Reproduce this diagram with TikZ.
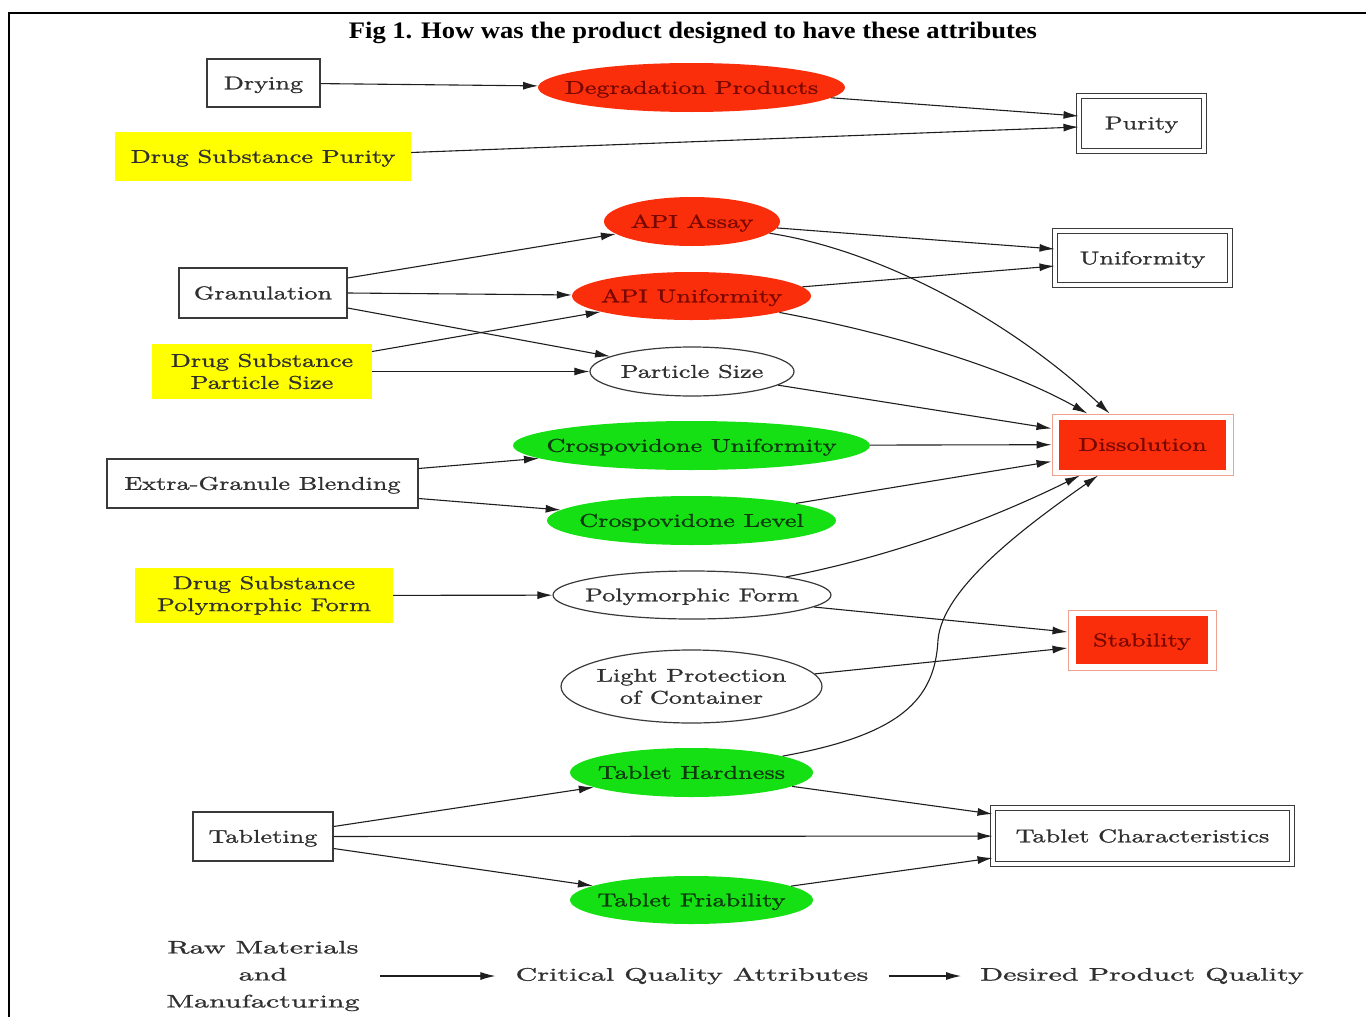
\documentclass[tikz,border=0pt]{standalone}
\usepackage{fontspec}
\usetikzlibrary{arrows.meta,shapes.geometric}
\newfontfamily\nodefont{lmroman10-regular.otf}[FakeStretch=1.42,FakeBold=1.2]
\newfontfamily\legfont{lmroman10-regular.otf}[FakeStretch=1.67,FakeBold=1.2]
\newfontfamily\titlefont{Liberation Serif}[FakeStretch=1.12]
\definecolor{txtgray}{HTML}{303030}
\definecolor{linegray}{HTML}{3A3A3A}
\definecolor{arrgray}{HTML}{1E1E1E}
\definecolor{ylw}{HTML}{FFFF00}
\definecolor{redf}{HTML}{FA2E0A}
\definecolor{redtxt}{HTML}{7A0800}
\definecolor{grnf}{HTML}{14E014}
\definecolor{grntxt}{HTML}{0E3A0E}
\definecolor{pinkl}{HTML}{F0A090}
\tikzset{
 base/.style={font=\nodefont\fontsize{18.5}{22}\selectfont, align=center, inner sep=0pt, text=txtgray, text height=15.6pt, text depth=3pt},
 multi/.style={text height={}, text depth={}, yshift=-1pt},
 rbox/.style={base, rectangle, draw=linegray, line width=1.2pt},
 ybox/.style={base, rectangle, fill=ylw},
 ell/.style={base, ellipse, inner xsep=-60pt, inner ysep=0pt},
 wel/.style={ell, draw=linegray, line width=1.2pt},
 rel/.style={ell, fill=redf, text=redtxt},
 gel/.style={ell, fill=grnf, text=grntxt},
 dbox/.style={base, rectangle, draw=linegray, line width=1pt, double, double distance=4pt},
 pbox/.style={rectangle, draw=pinkl, line width=1pt, inner sep=0pt},
 rfill/.style={base, rectangle, fill=redf, text=redtxt},
 arr/.style={draw=arrgray, line width=1.1pt, -{Latex[length=15pt,width=8pt]}},
 legt/.style={font=\legfont\fontsize{18}{27}\selectfont, align=center, inner sep=0pt, text=txtgray},
}
\begin{document}
\begin{tikzpicture}[x=1pt,y=-1pt]
\useasboundingbox (0,0) rectangle (1366,1017);
\draw[line width=2pt] (1366,13) -- (9,13) -- (9,1017);
\node[font=\titlefont\bfseries\fontsize{23.7}{28}\selectfont, inner sep=0pt] (title) at (693,32.5) {Fig 1. How was the product designed to have these attributes};

% left column
\node[rbox, minimum width=113pt, minimum height=48pt] (dry) at (263.5,83) {Drying};
\node[ybox, minimum width=296pt, minimum height=49pt] (dsp) at (263,156.5) {Drug Substance Purity};
\node[rbox, minimum width=168pt, minimum height=50pt] (gran) at (263,293) {Granulation};
\node[ybox, multi, minimum width=220pt, minimum height=55pt] (dsps) at (262,370.5) {Drug Substance\\Particle Size};
\node[rbox, minimum width=311pt, minimum height=49pt] (egb) at (262.5,483.5) {Extra-Granule Blending};
\node[ybox, multi, minimum width=258pt, minimum height=55pt] (dspf) at (264,594.5) {Drug Substance\\Polymorphic Form};
\node[rbox, minimum width=140pt, minimum height=49pt] (tab) at (263,836.5) {Tableting};

% middle column
\node[rel, minimum width=307pt, minimum height=49pt] (deg) at (691.5,87.5) {Degradation Products};
\node[rel, minimum width=176pt, minimum height=49pt] (apiA) at (692,221.5) {API Assay};
\node[rel, minimum width=239pt, minimum height=48pt] (apiU) at (691.5,296) {API Uniformity};
\node[wel, minimum width=204pt, minimum height=49pt] (ps) at (692,371.5) {Particle Size};
\node[gel, minimum width=357pt, minimum height=49pt] (cu) at (691.5,445.5) {Crospovidone Uniformity};
\node[gel, minimum width=289pt, minimum height=49pt] (cl) at (691.5,520.5) {Crospovidone Level};
\node[wel, minimum width=278pt, minimum height=48pt] (pf) at (692,595) {Polymorphic Form};
\node[wel, multi, minimum width=261pt, minimum height=73pt] (lp) at (691.5,685.5) {Light Protection\\of Container};
\node[gel, minimum width=243pt, minimum height=49pt] (th) at (691.5,772.5) {Tablet Hardness};
\node[gel, minimum width=243pt, minimum height=48pt] (tf) at (691.5,900) {Tablet Friability};

% right column
\node[dbox, minimum width=125pt, minimum height=55pt] (pur) at (1141.5,123) {Purity};
\node[dbox, minimum width=175pt, minimum height=54pt] (unif) at (1142.5,258) {Uniformity};
\node[pbox, minimum width=181pt, minimum height=61pt] (dis) at (1142.5,444.5) {};
\node[rfill, minimum width=167pt, minimum height=50pt] (disin) at (1142.5,444.5) {Dissolution};
\node[pbox, minimum width=148pt, minimum height=60pt] (stab) at (1142,640) {};
\node[rfill, minimum width=132pt, minimum height=48pt] (stabin) at (1142,640) {Stability};
\node[dbox, minimum width=299pt, minimum height=56pt] (tc) at (1142.5,836) {Tablet Characteristics};

% edges
\draw[arr] (dry) -- (deg);
\draw[arr] (deg) -- ([yshift=7pt]pur.west);
\draw[arr] ([yshift=4pt]dsp.east) -- ([yshift=-4pt]pur.west);
\draw[arr] ([yshift=15pt]gran.east) -- (apiA);
\draw[arr] (gran.east) -- (apiU);
\draw[arr] ([yshift=-15pt]gran.east) -- (ps);
\draw[arr] ([yshift=20pt]dsps.east) -- (apiU);
\draw[arr] (dsps.east) -- (ps);
\draw[arr] (apiA) -- ([yshift=9pt]unif.west);
\draw[arr] (apiA) .. controls (880,250) and (1010,320) .. (dis);
\draw[arr] (apiU) -- ([yshift=-8pt]unif.west);
\draw[arr] (apiU) .. controls (900,335) and (1010,370) .. (dis);
\draw[arr] (ps) -- ([yshift=16pt]dis.west);
\draw[arr] ([yshift=15pt]egb.east) -- (cu);
\draw[arr] ([yshift=-15pt]egb.east) -- (cl);
\draw[arr] (cu) -- (dis);
\draw[arr] (cl) -- ([yshift=-17pt]dis.west);
\draw[arr] (dspf) -- (pf);
\draw[arr] (pf) .. controls (900,555) and (1000,515) .. (dis);
\draw[arr] (pf) -- ([yshift=8pt]stab.west);
\draw[arr] (lp) -- ([yshift=-8pt]stab.west);
\draw[arr] (th) .. controls (900,735) and (935,700) .. (938,640) .. controls (942,590) and (1020,530) .. (dis);
\draw[arr] ([yshift=10pt]tab.east) -- (th);
\draw[arr] (tab) -- (tc);
\draw[arr] ([yshift=-12pt]tab.east) -- (tf);
\draw[arr] (th) -- ([yshift=22pt]tc.west);
\draw[arr] (tf) -- ([yshift=-22pt]tc.west);

% legend
\node[legt] (l1) at (263,976) {Raw Materials\\and\\Manufacturing};
\node[legt] (l2) at (692,976) {Critical Quality Attributes};
\node[legt] (l3) at (1142,976) {Desired Product Quality};
\draw[arr] ([xshift=20pt]l1.east) -- ([xshift=-20pt]l2.west);
\draw[arr] ([xshift=20pt]l2.east) -- ([xshift=-19pt]l3.west);
\end{tikzpicture}
\end{document}
